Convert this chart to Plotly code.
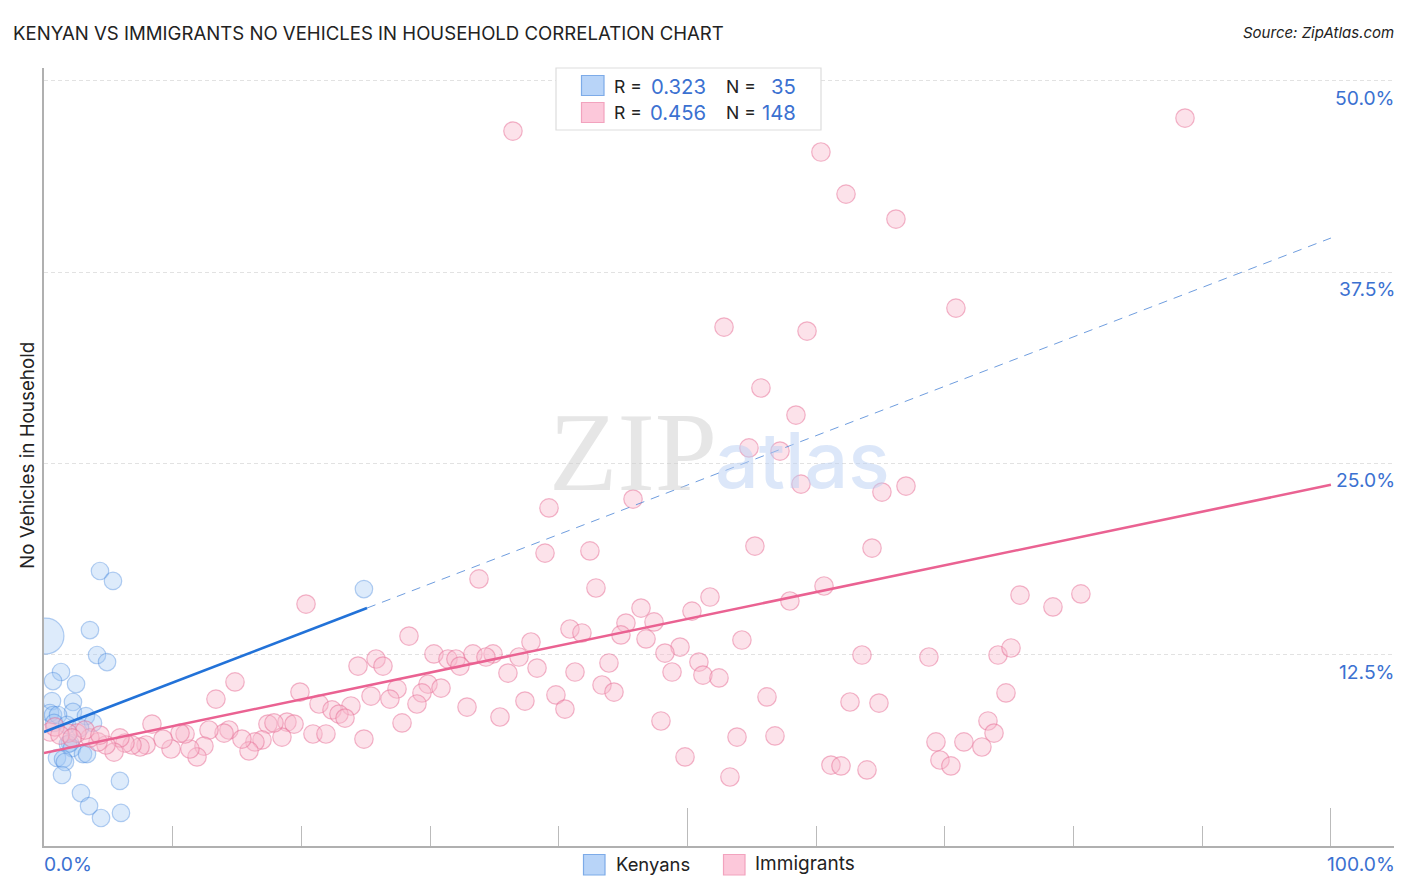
import plotly.graph_objects as go

kenyan_x = [0.15, 4.35, 5.36, 3.57, 4.12, 4.90, 1.32, 0.70, 2.49, 0.62, 2.25, 24.86, 2.25, 3.26, 3.81, 0.47, 0.70, 1.09,
            0.78, 1.79, 2.02, 1.86, 2.18, 1.01, 1.48, 3.03, 3.34, 1.63, 1.40, 5.90, 2.87, 3.50, 4.43, 5.98, 2.80]
kenyan_y = [13.72, 17.97, 17.32, 14.11, 12.48, 12.02, 11.37, 10.78, 10.58, 9.47, 9.41, 16.79, 8.76, 8.49, 8.04, 8.69, 8.56, 8.56,
            8.04, 7.91, 6.73, 6.66, 6.40, 5.75, 5.68, 6.01, 6.01, 5.49, 4.64, 4.25, 3.46, 2.61, 1.83, 2.16, 7.71]
kenyan_sizes = [36] + [17.5] * 34

immigrant_x = [36.44, 88.66, 60.37, 62.32, 66.20, 70.86, 52.84, 59.29, 55.71, 58.43, 54.78, 57.19, 58.82, 65.11, 66.98, 45.77, 39.24,
               38.93, 42.42, 55.24, 64.34, 33.80, 42.89, 60.61, 51.75, 75.84, 80.57, 78.40, 20.36, 57.96,
               46.39, 50.35, 45.22, 47.40, 40.87, 41.80, 44.83, 46.78, 54.23, 49.42, 48.25, 63.56, 50.89, 43.90, 41.26, 48.80,
               51.20, 52.45, 43.36, 44.29, 56.18, 62.63, 39.78, 40.48, 47.94, 53.85, 56.80, 49.81, 53.30, 61.15, 61.93, 63.95,
               68.76, 74.13, 75.14, 74.75, 73.35, 73.82, 64.88, 69.31, 71.48, 72.88, 69.62, 70.47,
               28.36, 37.84, 30.30, 31.39, 32.01, 33.33, 34.89, 34.34, 32.32, 36.91, 25.80, 24.40, 26.34, 38.31, 36.05, 29.84,
               30.85, 27.43, 19.89, 25.41, 29.37, 26.88, 28.98, 21.37, 23.85, 37.37, 22.38, 22.92, 23.39, 32.87, 35.43, 27.82,
               18.88, 19.43, 20.90, 21.91, 24.86, 18.49,
               14.84, 13.36, 17.40, 17.87, 14.37, 13.99, 12.82, 16.94, 16.39, 15.93, 15.38, 12.43, 11.89, 11.34, 10.96, 10.57,
               8.39, 9.87, 9.25, 7.93, 7.46, 6.84, 6.29, 5.90, 5.44, 4.82, 4.20, 3.57, 2.56, 1.86, 0.47, 0.85, 1.24, 3.19, 2.18, 4.35]
immigrant_y = [46.72, 47.57, 45.35, 42.60, 40.97, 35.15, 33.91, 33.65, 29.93, 28.16, 26.01, 25.81, 23.65, 23.13, 23.52, 22.67, 22.09,
               19.14, 19.28, 19.60, 19.47, 17.45, 16.86, 16.99, 16.27, 16.40, 16.47, 15.62, 15.81, 16.01,
               15.55, 15.35, 14.57, 14.64, 14.18, 13.92, 13.79, 13.53, 13.46, 13.00, 12.61, 12.48, 12.02, 11.96, 11.37, 11.37,
               11.17, 10.98, 10.52, 10.06, 9.74, 9.41, 9.87, 8.95, 8.17, 7.12, 7.19, 5.82, 4.51, 5.29, 5.23, 4.97,
               12.35, 12.48, 12.94, 10.00, 8.17, 7.38, 9.34, 6.80, 6.80, 6.47, 5.62, 5.23,
               13.72, 13.33, 12.55, 12.22, 12.22, 12.55, 12.55, 12.35, 11.76, 12.35, 12.22, 11.76, 11.76, 11.63, 11.30, 10.58,
               10.32, 10.26, 10.06, 9.80, 10.00, 9.60, 9.28, 9.28, 9.15, 9.47, 8.89, 8.62, 8.36, 9.08, 8.43, 8.04,
               8.10, 7.97, 7.32, 7.32, 6.99, 7.12,
               10.72, 9.60, 7.97, 8.04, 7.58, 7.38, 7.58, 6.93, 6.80, 6.21, 6.99, 6.53, 5.82, 6.34, 7.32, 7.38,
               7.97, 6.34, 6.99, 6.60, 6.47, 6.60, 6.73, 7.06, 6.14, 6.60, 6.80, 7.06, 7.38, 7.38, 7.45, 7.78, 7.25, 7.58, 7.06, 7.25]

kenyan_fit_x = [0, 25.1]
kenyan_fit_y = [7.45, 15.55]
kenyan_dash_x = [25.1, 100]
kenyan_dash_y = [15.55, 39.73]
immigrant_fit_x = [0, 100]
immigrant_fit_y = [6.08, 23.6]

y_ticks = [12.5, 25, 37.5, 50]
y_tick_labels = ["12.5%", "25.0%", "37.5%", "50.0%"]

BLUE = "#3b71d1"
DARK = "#222222"
WIDTH, HEIGHT = 1406, 892
LEFT, RIGHT, TOP, BOTTOM = 44, 1394, 68, 846


def px(x):
    return (x - LEFT) / (RIGHT - LEFT)


def py(y):
    return (BOTTOM - y) / (BOTTOM - TOP)


def label(x, y, text, size=18, color=DARK, xanchor="left", yanchor="middle", weight="normal", **kw):
    return dict(xref="paper", yref="paper", x=px(x), y=py(y), text=text, showarrow=False, xanchor=xanchor,
                yanchor=yanchor, font=dict(family=kw.pop("family", "Inter"), size=size, color=color, weight=weight),
                borderpad=0, **kw)


def box(x0, y0, x1, y1, fill, line):
    return dict(type="rect", xref="paper", yref="paper", x0=px(x0), y0=py(y0), x1=px(x1), y1=py(y1),
                fillcolor=fill, line=dict(color=line, width=1.2), layer="above")


fig = go.Figure()
fig.add_trace(go.Scatter(x=kenyan_x, y=kenyan_y, mode="markers", name="Kenyans",
                         marker=dict(size=kenyan_sizes, color="rgba(160,200,245,0.5)",
                                     line=dict(color="rgba(60,130,220,0.55)", width=1.2))))
fig.add_trace(go.Scatter(x=immigrant_x, y=immigrant_y, mode="markers", name="Immigrants",
                         marker=dict(size=18.5, color="rgba(248,185,205,0.42)",
                                     line=dict(color="rgba(232,110,150,0.5)", width=1.2))))
fig.add_trace(go.Scatter(x=kenyan_dash_x, y=kenyan_dash_y, mode="lines",
                         line=dict(color="#4a84d6", width=0.8, dash="9px,7px")))
fig.add_trace(go.Scatter(x=kenyan_fit_x, y=kenyan_fit_y, mode="lines", line=dict(color="#2272d8", width=2.6)))
fig.add_trace(go.Scatter(x=immigrant_fit_x, y=immigrant_fit_y, mode="lines", line=dict(color="#ea6292", width=2.6)))

annotations = [
    label(548, 452, "ZIP", size=112, color="rgba(205,205,205,0.5)", family="Liberation Serif"),
    label(714, 460, "atlas", size=77, color="rgba(185,208,243,0.5)", weight=500),
    label(12, 33, "KENYAN VS IMMIGRANTS NO VEHICLES IN HOUSEHOLD CORRELATION CHART", size=18.6),
    label(1395, 33, "<i>Source: ZipAtlas.com</i>", size=15, xanchor="right"),
    label(43, 864, "0.0%", size=19.3, color=BLUE),
    label(1396, 864, "100.0%", size=19.3, color=BLUE, xanchor="right"),
    label(27, 456, "No Vehicles in Household", size=18.8, xanchor="center", textangle=-90),
    label(615, 864, "Kenyans", size=18.4),
    label(754, 864, "Immigrants", size=19),
    label(613, 86, "R =", size=17.6),
    label(707, 86, "0.323", size=20.3, color=BLUE, xanchor="right"),
    label(725, 86, "N =", size=17.6),
    label(797, 86, "35", size=20.3, color=BLUE, xanchor="right"),
    label(613, 113, "R =", size=17.6),
    label(707, 113, "0.456", size=20.3, color=BLUE, xanchor="right"),
    label(725, 113, "N =", size=17.6),
    label(797, 113, "148", size=20.3, color=BLUE, xanchor="right"),
]
for tick, text in zip(y_ticks, y_tick_labels):
    annotations.append(dict(xref="paper", yref="y", x=1, y=tick, text=text, showarrow=False, xanchor="right",
                            yanchor="top", xshift=3, yshift=-3, font=dict(family="Inter", size=19.3, color=BLUE)))

fig.update_layout(
    width=WIDTH, height=HEIGHT, showlegend=False, paper_bgcolor="white", plot_bgcolor="white",
    margin=dict(l=LEFT, r=WIDTH - RIGHT, t=TOP, b=HEIGHT - BOTTOM),
    annotations=annotations,
    shapes=[
        box(556, 68, 821, 130, "white", "#dddddd"),
        box(581.5, 75.5, 604, 95.5, "#b8d4f8", "#7dabe8"),
        box(581.5, 102.5, 604, 122.5, "#fcc8da", "#f2a3be"),
        box(583.5, 854.5, 605, 875, "#b8d4f8", "#7dabe8"),
        box(723.5, 854.5, 745, 875, "#fcc8da", "#f2a3be"),
    ],
)
fig.update_xaxes(range=[0, 104.9], tickvals=[0, 50, 100], ticks="inside", ticklen=38, tickwidth=1, tickcolor="#bbbbbb",
                 showticklabels=False, showgrid=False, zeroline=False, showline=True, linecolor="#b0b0b0", linewidth=1.5,
                 minor=dict(dtick=10, tick0=0, ticks="inside", ticklen=20, tickwidth=1, tickcolor="#bbbbbb", showgrid=False))
fig.update_yaxes(range=[0, 50.84], tickvals=y_ticks, showticklabels=False, ticks="", showgrid=True, gridcolor="#e2e2e2",
                 gridwidth=1, griddash="4px,3px", zeroline=False, showline=True, linecolor="#b0b0b0", linewidth=1.5)

fig.write_html("out.html", config={"displayModeBar": False}, post_script="document.body.style.margin='0';")
